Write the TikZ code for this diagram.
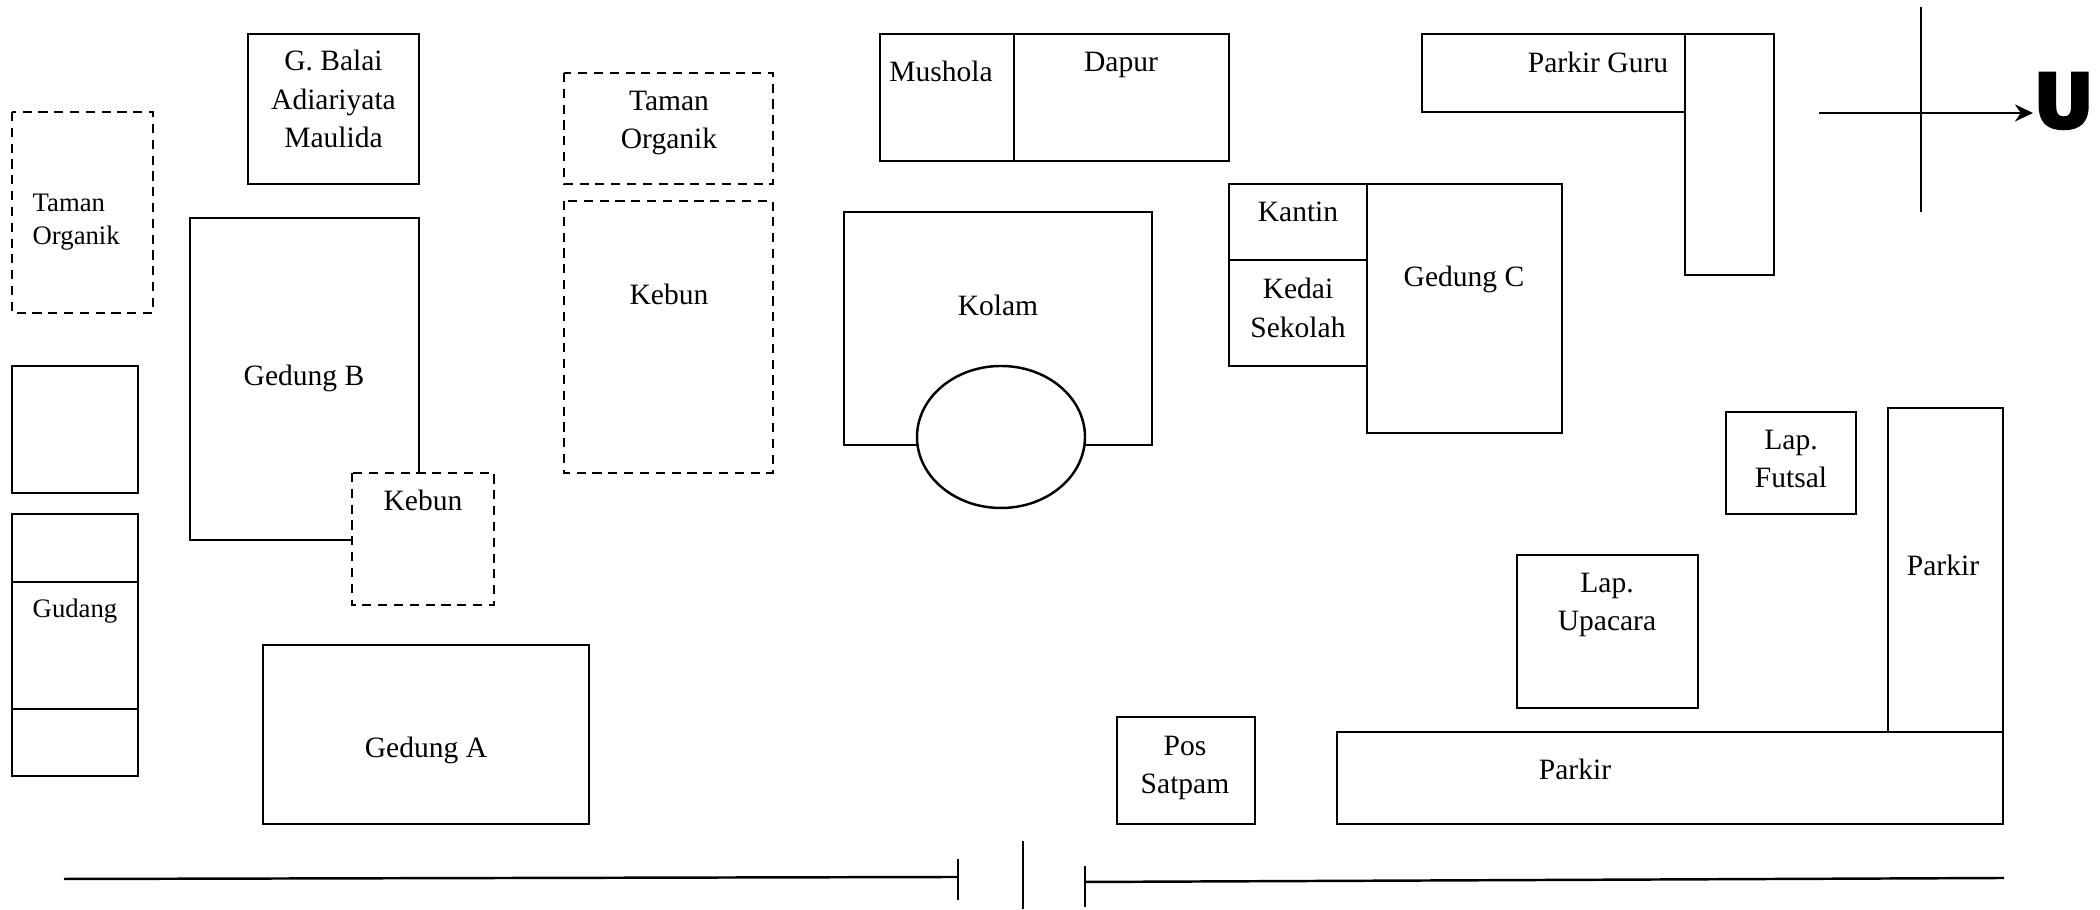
\documentclass[tikz,border=0pt]{standalone}
\usepackage{fontspec}
\setmainfont{Liberation Serif}
\newfontfamily\utarafont[FakeBold=5]{DejaVu Sans Bold}
\usetikzlibrary{arrows.meta,positioning,calc}
\tikzset{
  wall/.style={draw=black, line width=0.7pt},
  garden/.style={draw=black, line width=0.7pt, dashed, dash pattern=on 2.6pt off 1.9pt},
  label/.style={inner sep=0pt, align=center, font=\fontsize{8.4}{11.0}\selectfont},
  smalllabel/.style={inner sep=0pt, align=left, font=\fontsize{7.6}{9.5}\selectfont},
}
\begin{document}
\begin{tikzpicture}[>=stealth]
        \useasboundingbox (0,0) rectangle (21,9.1);

        % left column
        \draw[garden] (0.12,7.98) rectangle (1.53,5.97);
        \node[smalllabel, anchor=west] (tamankiri) at (0.32,6.88) {Taman\\Organik};
        \draw[wall] (0.12,5.44) rectangle (1.38,4.17);
        \draw[wall] (0.12,3.96) rectangle (1.38,1.34);
        \draw[wall] (0.12,3.28) -- (1.38,3.28);
        \draw[wall] (0.12,2.01) -- (1.38,2.01);
        \node[smalllabel] (gudang) at (0.75,2.99) {Gudang};

        % gedung B, G. Balai, gedung A
        \draw[wall] (2.48,8.76) rectangle (4.19,7.26);
        \node[label] (balai) at (3.335,8.11) {G. Balai\\Adiariyata\\Maulida};
        \draw[wall] (3.52,3.70) -- (1.90,3.70) -- (1.90,6.92) -- (4.19,6.92) -- (4.19,4.38);
        \node[label] (gedungB) at (3.04,5.32) {Gedung B};
        \draw[garden] (3.52,4.37) rectangle (4.94,3.05);
        \node[label] (kebunkecil) at (4.23,4.10) {Kebun};
        \draw[wall] (2.63,2.65) rectangle (5.89,0.86);
        \node[label] (gedungA) at (4.26,1.60) {Gedung A};

        % taman and kebun
        \draw[garden] (5.64,8.37) rectangle (7.73,7.26);
        \node[label] (tamantengah) at (6.69,7.87) {Taman\\Organik};
        \draw[garden] (5.64,7.09) rectangle (7.73,4.37);
        \node[label] (kebun) at (6.69,6.16) {Kebun};

        % mushola, dapur
        \draw[wall] (8.80,8.76) rectangle (12.29,7.49);
        \draw[wall] (10.14,8.76) -- (10.14,7.49);
        \node[label] (mushola) at (9.41,8.39) {Mushola};
        \node[label] (dapur) at (11.21,8.45) {Dapur};

        % kolam
        \draw[wall] (8.44,6.98) rectangle (11.52,4.65);
        \draw[wall, fill=white] (10.01,4.73) ellipse (0.84 and 0.71);
        \node[label] (kolam) at (9.98,6.05) {Kolam};

        % kantin, gedung C
        \draw[wall] (12.29,7.26) rectangle (13.67,5.44);
        \draw[wall] (12.29,6.50) -- (13.67,6.50);
        \node[label] (kantin) at (12.98,6.98) {Kantin};
        \node[label] (kedai) at (12.98,6.02) {Kedai\\Sekolah};
        \draw[wall] (13.67,7.26) rectangle (15.62,4.77);
        \node[label] (gedungC) at (14.64,6.31) {Gedung C};

        % parkir guru
        \draw[wall] (14.22,8.76) rectangle (16.85,7.98);
        \draw[wall] (16.85,8.76) rectangle (17.74,6.35);
        \node[label] (parkirguru) at (15.98,8.48) {Parkir Guru};

        % arah utara
        \draw[wall] (19.21,9.03) -- (19.21,6.98);
        \node[inner sep=0pt, anchor=west, font=\fontsize{21}{21}\utarafont] (utara) at (20.33,8.09) {U};
        \coordinate (baratutara) at (18.19,7.97);
        \draw[-{Stealth[length=1.8mm, width=1.7mm]}, line width=0.8pt] (baratutara) -- (20.33,7.97);

        % lapangan
        \draw[wall] (17.26,4.98) rectangle (18.56,3.96);
        \node[label] (futsal) at (17.91,4.51) {Lap.\\Futsal};
        \draw[wall] (15.17,3.55) rectangle (16.98,2.02);
        \node[label] (upacara) at (16.07,3.05) {Lap.\\Upacara};

        % parkir, pos
        \draw[wall] (18.88,5.02) rectangle (20.03,1.78);
        \node[label] (parkirkanan) at (19.43,3.45) {Parkir};
        \draw[wall] (13.37,1.78) rectangle (20.03,0.86);
        \node[label] (parkirbawah) at (15.75,1.41) {Parkir};
        \draw[wall] (11.17,1.93) rectangle (12.55,0.86);
        \node[label] (satpam) at (11.85,1.42) {Pos\\Satpam};

        % jalan
        \draw[wall] (0.64,0.31) -- (9.58,0.33);
        \draw[wall] (9.58,0.51) -- (9.58,0.10);
        \draw[wall] (10.23,0.69) -- (10.23,0.01);
        \draw[wall] (10.85,0.44) -- (10.85,0.03);
        \draw[wall] (10.85,0.28) -- (20.04,0.32);
\end{tikzpicture}
\end{document}
